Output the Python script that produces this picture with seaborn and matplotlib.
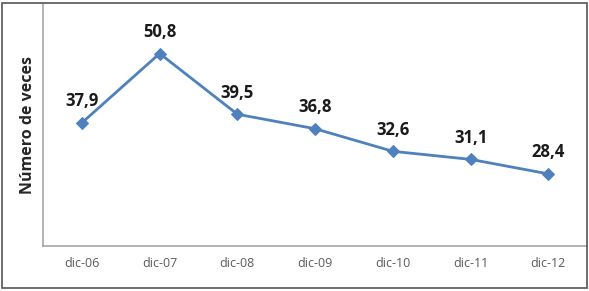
import matplotlib
matplotlib.use('Agg')
import matplotlib.pyplot as plt
import seaborn as sns
import pandas as pd
from matplotlib.patches import Rectangle

# datos
periodos = ['dic-06', 'dic-07', 'dic-08', 'dic-09', 'dic-10', 'dic-11', 'dic-12']
veces = [37.9, 50.8, 39.5, 36.8, 32.6, 31.1, 28.4]
etiquetas = ['37,9', '50,8', '39,5', '36,8', '32,6', '31,1', '28,4']

sns.set_style('white')
plt.rcParams['font.family'] = ['Open Sans', 'DejaVu Sans']

df = pd.DataFrame({'periodo': periodos, 'veces': veces})
df['x'] = range(len(df))

fig = plt.figure(figsize=(5.89, 2.91), dpi=100)
ax = fig.add_axes([0.073, 0.155, 0.924, 0.831])

sns.lineplot(data=df, x='x', y='veces', ax=ax, color='#4F81BD', linewidth=2,
             marker='D', markersize=6, markeredgecolor='#4F81BD')

for xi, yi, txt in zip(df['x'], df['veces'], etiquetas):
    ax.annotate(txt, (xi, yi), xytext=(0, 15.5), textcoords='offset points',
                ha='center', va='center', fontsize=12, fontweight='bold',
                color='#1a1a1a')

ax.set_xlim(-0.5, len(periodos) - 0.5)
ax.set_ylim(15, 60)
ax.set_xticks(df['x'])
ax.set_xticklabels(periodos, fontsize=9, color='#595959')
ax.set_yticks([])
ax.tick_params(axis='x', length=0, pad=8)
ax.set_xlabel('')
ax.set_ylabel('Número de veces', fontsize=11.5, fontweight='bold', labelpad=5)

for side in ['top', 'right']:
    ax.spines[side].set_visible(False)
for side in ['left', 'bottom']:
    ax.spines[side].set_color('#A6A6A6')
    ax.spines[side].set_linewidth(1.2)

# marco exterior
fig.patches.append(Rectangle((0.004, 0.012), 0.992, 0.976, transform=fig.transFigure,
                             fill=False, edgecolor='#555555', linewidth=1.2))

fig.savefig('out.png', dpi=100)
